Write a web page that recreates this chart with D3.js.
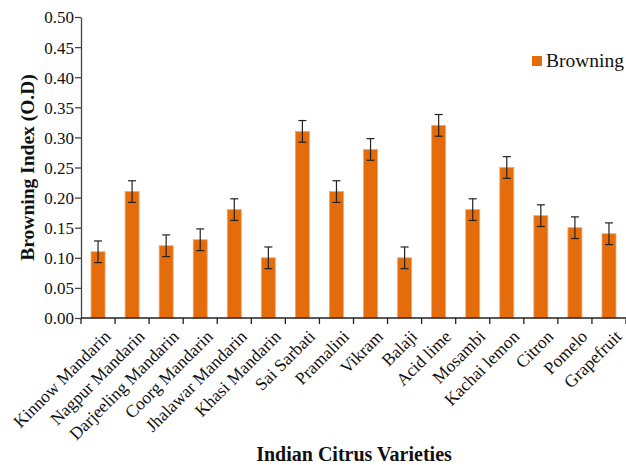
<!DOCTYPE html>
<html>
<head>
<meta charset="utf-8">
<script src="https://cdn.jsdelivr.net/npm/d3@7"></script>
<style>
  body { margin: 0; background: #fff; }
  text { font-family: "Liberation Serif", "Times New Roman", serif; fill: #111; }
</style>
</head>
<body>
<div id="chart"></div>
<script>
const varieties = ["Kinnow Mandarin", "Nagpur Mandarin", "Darjeeling Mandarin", "Coorg Mandarin",
  "Jhalawar Mandarin", "Khasi Mandarin", "Sai Sarbati", "Pramalini", "Vikram", "Balaji",
  "Acid lime", "Mosambi", "Kachai lemon", "Citron", "Pomelo", "Grapefruit"]
const browning = [0.11, 0.21, 0.12, 0.13, 0.18, 0.10, 0.31, 0.21, 0.28, 0.10, 0.32, 0.18, 0.25, 0.17, 0.15, 0.14]
const errors = [0.018, 0.018, 0.018, 0.018, 0.018, 0.018, 0.018, 0.018, 0.018, 0.018, 0.018, 0.018, 0.018, 0.018, 0.018, 0.018]
const yTicks = [0, 0.05, 0.10, 0.15, 0.20, 0.25, 0.30, 0.35, 0.40, 0.45, 0.50]

const W = 626, H = 465
const margin = { top: 17, right: 0, bottom: 147, left: 81 }
const width = W - margin.left - margin.right,
      height = H - margin.top - margin.bottom

const svg = d3.select("#chart").append("svg")
  .attr("width", W).attr("height", H)

const g = svg.append("g")
  .attr("transform", `translate(${margin.left},${margin.top})`)

const x = d3.scaleBand().domain(varieties).range([0, width]).paddingInner(0.59).paddingOuter(0.295)
const y = d3.scaleLinear().domain([0, 0.5]).range([height, 0])

// bars
const data = varieties.map((v, i) => ({ v, val: browning[i], err: errors[i] }))

g.selectAll("rect.bar")
  .data(data).enter().append("rect")
  .attr("class", "bar")
  .attr("x", d => x(d.v))
  .attr("y", d => y(d.val))
  .attr("width", x.bandwidth())
  .attr("height", d => height - y(d.val))
  .attr("fill", "#e46c0a")
  .attr("stroke", "#f1a66a")
  .attr("stroke-width", 0.8)

// error bars
const eb = g.selectAll("g.err").data(data).enter().append("g")
  .attr("transform", d => `translate(${x(d.v) + x.bandwidth() / 2},0)`)
  .attr("stroke", "#222").attr("stroke-width", 1.2)
eb.append("line").attr("y1", d => y(d.val + d.err)).attr("y2", d => y(d.val - d.err))
eb.append("line").attr("x1", -4).attr("x2", 4).attr("y1", d => y(d.val + d.err)).attr("y2", d => y(d.val + d.err))
eb.append("line").attr("x1", -4).attr("x2", 4).attr("y1", d => y(d.val - d.err)).attr("y2", d => y(d.val - d.err))

// y axis
const yAxis = g.append("g")
  .call(d3.axisLeft(y).tickValues(yTicks).tickFormat(d3.format(".2f")).tickSize(6).tickSizeOuter(0))
yAxis.selectAll("text").style("font-size", "17px").attr("x", -7).attr("dy", "0.35em")
yAxis.selectAll("line, path").attr("stroke", "#444").attr("stroke-width", 1.3)

// x axis with ticks at band boundaries
const xa = g.append("g").attr("transform", `translate(0,${height})`)
xa.append("line").attr("x1", 0).attr("x2", width).attr("stroke", "#222").attr("stroke-width", 1.3)
const step = x.step()
xa.selectAll("line.tick").data(d3.range(varieties.length + 1)).enter().append("line")
  .attr("x1", i => i * step).attr("x2", i => i * step)
  .attr("y1", 0).attr("y2", 6).attr("stroke", "#222").attr("stroke-width", 1.3)

xa.selectAll("text.lbl").data(varieties).enter().append("text")
  .attr("transform", d => `translate(${x(d) + x.bandwidth() / 2 + 5},${11}) rotate(-45)`)
  .attr("text-anchor", "end")
  .attr("dy", "0.7em")
  .style("font-size", "17.5px")
  .text(d => d)

// axis titles
svg.append("text")
  .attr("transform", `translate(34,${margin.top + height / 2}) rotate(-90)`)
  .attr("text-anchor", "middle")
  .style("font-size", "19.5px").style("font-weight", "bold")
  .text("Browning Index (O.D)")

svg.append("text")
  .attr("x", 354).attr("y", 461)
  .attr("text-anchor", "middle")
  .style("font-size", "20px").style("font-weight", "bold")
  .text("Indian Citrus Varieties")

// legend
const lg = svg.append("g").attr("transform", "translate(532,56)")
lg.append("rect").attr("width", 10).attr("height", 10).attr("fill", "#e46c0a")
lg.append("text").attr("x", 14).attr("y", 11).style("font-size", "19.5px").text("Browning")
</script>
</body>
</html>
